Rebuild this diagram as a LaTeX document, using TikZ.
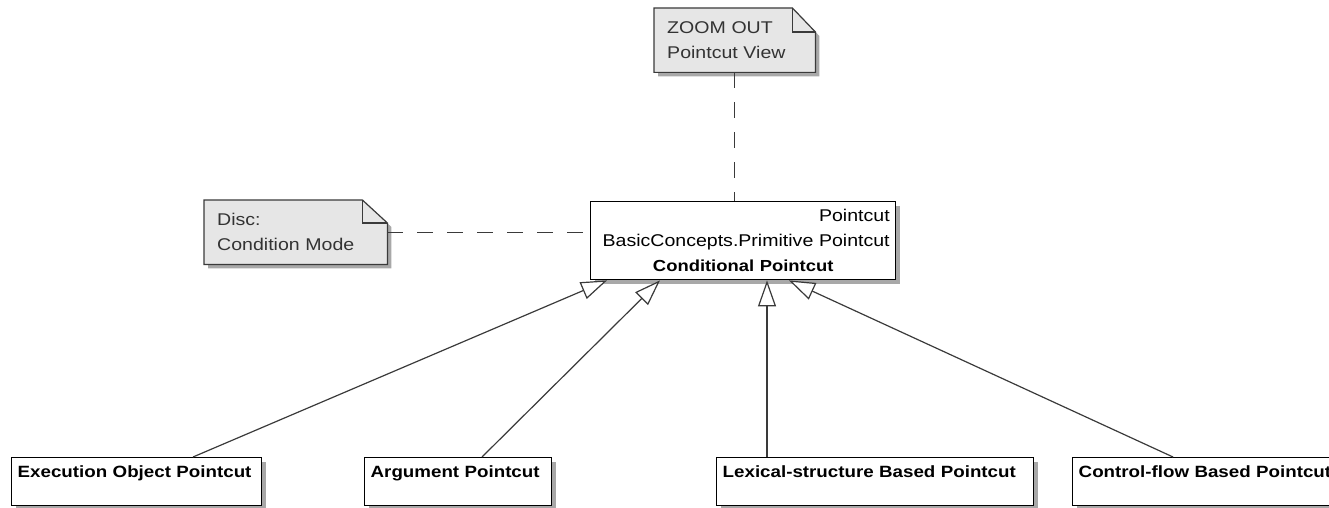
\documentclass[tikz,border=0pt]{standalone}
\usepackage{fontspec}
\setmainfont{Liberation Sans}[FakeStretch=1.15]
\usetikzlibrary{arrows.meta,backgrounds,shadows}
\definecolor{notegray}{HTML}{E6E6E6}
\definecolor{shadowgray}{HTML}{A8A8A8}
\definecolor{linegray}{HTML}{3A3A3A}

\begin{document}
\begin{tikzpicture}[x=1pt, y=-1pt,
    boxshadow/.style={drop shadow={shadow xshift=4pt, shadow yshift=-4pt, fill=shadowgray, opacity=1}},
    condbox/.style={draw=black, line width=1.4pt, fill=white, boxshadow, anchor=north west,
        text width=293pt, inner xsep=6pt, inner ysep=0pt, minimum height=78pt, align=right,
        font=\fontsize{17}{25}\selectfont},
    subbox/.style={draw=black, line width=1.4pt, fill=white, boxshadow, anchor=north west,
        inner xsep=6pt, inner ysep=4pt, align=left, text height=16pt, text depth=24pt,
        font=\fontsize{16.3}{20}\selectfont\bfseries},
    notetext/.style={anchor=north west, inner xsep=13pt, inner ysep=0pt, minimum height=64pt,
        align=left, text=black!80, font=\fontsize{17}{25}\selectfont},
    notepaper/.style={draw=linegray, line width=1.2pt, fill=notegray, boxshadow},
    notefold/.style={draw=linegray, line width=1.2pt},
    anchorline/.style={draw=linegray, line width=1.3pt, dash pattern=on 16pt off 14pt},
    inherit/.style={draw=linegray, line width=1.2pt, -{Triangle[length=26pt, width=18pt, fill=white]}}
]
    \path[use as bounding box, clip] (0,0) rectangle (1329,508);

    % Main class
    \node[condbox] (cp) at (590,201)
        {Pointcut\\BasicConcepts.Primitive Pointcut\\\makebox[\linewidth]{\fontsize{16}{25}\selectfont\bfseries Conditional Pointcut}};

    % Notes
    \node[notetext, text width=135pt] (zo) at (654,8) {ZOOM OUT\\Pointcut View};
    \node[notetext, text width=157pt] (dm) at (204,200) {Disc:\\Condition Mode};
    \begin{scope}[on background layer]
        \draw[notepaper] (zo.north west) -- ([xshift=-23pt]zo.north east) -- ([yshift=-24pt]zo.north east)
            -- (zo.south east) -- (zo.south west) -- cycle;
        \draw[notefold] ([xshift=-23pt]zo.north east) -- ++(0,24) -- ++(23,0);
        \draw[notepaper] (dm.north west) -- ([xshift=-25pt]dm.north east) -- ([yshift=-23pt]dm.north east)
            -- (dm.south east) -- (dm.south west) -- cycle;
        \draw[notefold] ([xshift=-25pt]dm.north east) -- ++(0,23) -- ++(25,0);
    \end{scope}

    % Note anchors
    \draw[anchorline] (zo.south) -- (zo.south |- cp.north);
    \draw[anchorline] (dm.east) -- (dm.east -| cp.west);

    % Sub classes
    \node[subbox, text width=238pt] (eop) at (11,457) {\mbox{Execution Object Pointcut}};
    \node[subbox, text width=175pt] (ap) at (364,457) {\mbox{Argument Pointcut}};
    \node[subbox, text width=305pt] (lsp) at (716,457) {\mbox{Lexical-structure Based Pointcut}};
    \node[subbox, text width=300pt] (cfp) at (1072,457) {\mbox{Control-flow Based Pointcut}};

    % Generalizations
    \draw[inherit] ([xshift=182pt]eop.north west) -- ([xshift=17pt]cp.south west);
    \draw[inherit] ([xshift=118pt]ap.north west) -- ([xshift=70pt]cp.south west);
    \draw[inherit] ([xshift=51pt]lsp.north west) -- ([xshift=177pt]cp.south west);
    \draw[inherit] ([xshift=101pt]cfp.north west) -- ([xshift=199pt]cp.south west);

\end{tikzpicture}
\end{document}
